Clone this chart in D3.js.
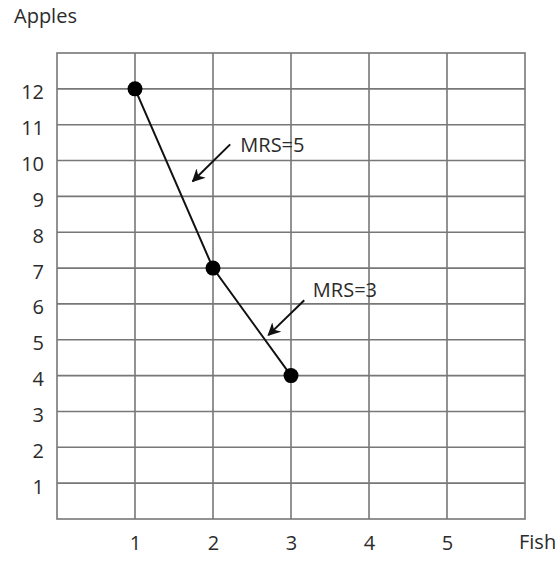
<!DOCTYPE html>
<html>
<head>
<meta charset="utf-8">
<script src="https://cdn.jsdelivr.net/npm/d3@7"></script>
<style>
  body { margin: 0; background: #fff; }
  text { font-family: "Open Sans", sans-serif; fill: #2b2b2b; }
</style>
</head>
<body>
<script>
// chart data
var fishTicks = [1, 2, 3, 4, 5];
var appleTicks = [1, 2, 3, 4, 5, 6, 7, 8, 9, 10, 11, 12];
var fish = [1, 2, 3];
var apples = [12, 7, 4];
var notes = ["MRS=5", "MRS=3"];
// arrows point from label toward the segment (data coordinates)
var arrowFrom = [[2.22, 10.45], [3.17, 6.1]];
var arrowTo = [[1.74, 9.42], [2.71, 5.13]];
var noteAt = [[2.35, 10.24], [3.28, 6.19]];

var W = 560;
var H = 562;
var FS = 20;

function main() {
  var svg = d3.select("body").append("svg")
    .attr("width", W)
    .attr("height", H);

  var x = d3.scaleLinear().domain([0, 6]).range([57, 525]);
  var y = d3.scaleLinear().domain([0, 13]).range([519, 53]);

  svg.append("defs").append("marker")
    .attr("id", "head")
    .attr("viewBox", "0 0 10 10")
    .attr("refX", 9).attr("refY", 5)
    .attr("markerWidth", 6.5).attr("markerHeight", 6.5)
    .attr("markerUnits", "strokeWidth")
    .attr("orient", "auto")
    .append("path")
    .attr("d", "M0,0 L10,5 L0,10 L3,5 Z")
    .attr("fill", "#111");

  //grid
  var grid = svg.append("g").attr("stroke", "#777").attr("stroke-width", 1.6);
  grid.selectAll("line.v")
    .data(fishTicks)
    .enter().append("line")
    .attr("class", "v")
    .attr("x1", function(d) { return x(d); })
    .attr("x2", function(d) { return x(d); })
    .attr("y1", y(0)).attr("y2", y(13));
  grid.selectAll("line.h")
    .data(appleTicks)
    .enter().append("line")
    .attr("class", "h")
    .attr("x1", x(0)).attr("x2", x(6))
    .attr("y1", function(d) { return y(d); })
    .attr("y2", function(d) { return y(d); });
  grid.append("rect")
    .attr("x", x(0)).attr("y", y(13))
    .attr("width", x(6) - x(0)).attr("height", y(0) - y(13))
    .attr("fill", "none");

  //axes, only labels are visible
  var xAxis = d3.axisBottom(x).tickValues(fishTicks).tickFormat(d3.format("d"))
    .tickSize(0).tickPadding(17);
  var gx = svg.append("g").attr("transform", "translate(0," + y(0) + ")").call(xAxis);
  var yAxis = d3.axisLeft(y).tickValues(appleTicks).tickFormat(d3.format("d"))
    .tickSize(0).tickPadding(13);
  var gy = svg.append("g").attr("transform", "translate(" + x(0) + ",0)").call(yAxis);
  [gx, gy].forEach(function(g) {
    g.select(".domain").remove();
    g.attr("font-size", FS).attr("font-family", null);
    g.selectAll("text").attr("fill", "#2b2b2b");
  });
  gy.selectAll("text").attr("dy", "0.5em");

  svg.append("text")
    .attr("x", 14).attr("y", 23)
    .attr("font-size", FS)
    .text("Apples");
  svg.append("text")
    .attr("x", 519).attr("y", 549)
    .attr("font-size", FS)
    .text("Fish");

  //line and points
  var pts = fish.map(function(d, i) { return [d, apples[i]]; });
  svg.append("path")
    .datum(pts)
    .attr("d", d3.line()
      .x(function(d) { return x(d[0]); })
      .y(function(d) { return y(d[1]); }))
    .attr("fill", "none")
    .attr("stroke", "#111")
    .attr("stroke-width", 2);
  svg.selectAll("circle")
    .data(pts)
    .enter().append("circle")
    .attr("cx", function(d) { return x(d[0]); })
    .attr("cy", function(d) { return y(d[1]); })
    .attr("r", 7.5)
    .attr("fill", "#000");

  //annotations
  notes.forEach(function(t, i) {
    svg.append("line")
      .attr("x1", x(arrowFrom[i][0])).attr("y1", y(arrowFrom[i][1]))
      .attr("x2", x(arrowTo[i][0])).attr("y2", y(arrowTo[i][1]))
      .attr("stroke", "#111")
      .attr("stroke-width", 2)
      .attr("marker-end", "url(#head)");
    svg.append("text")
      .attr("x", x(noteAt[i][0])).attr("y", y(noteAt[i][1]))
      .attr("font-size", FS)
      .text(t);
  });
}

main();
</script>
</body>
</html>
